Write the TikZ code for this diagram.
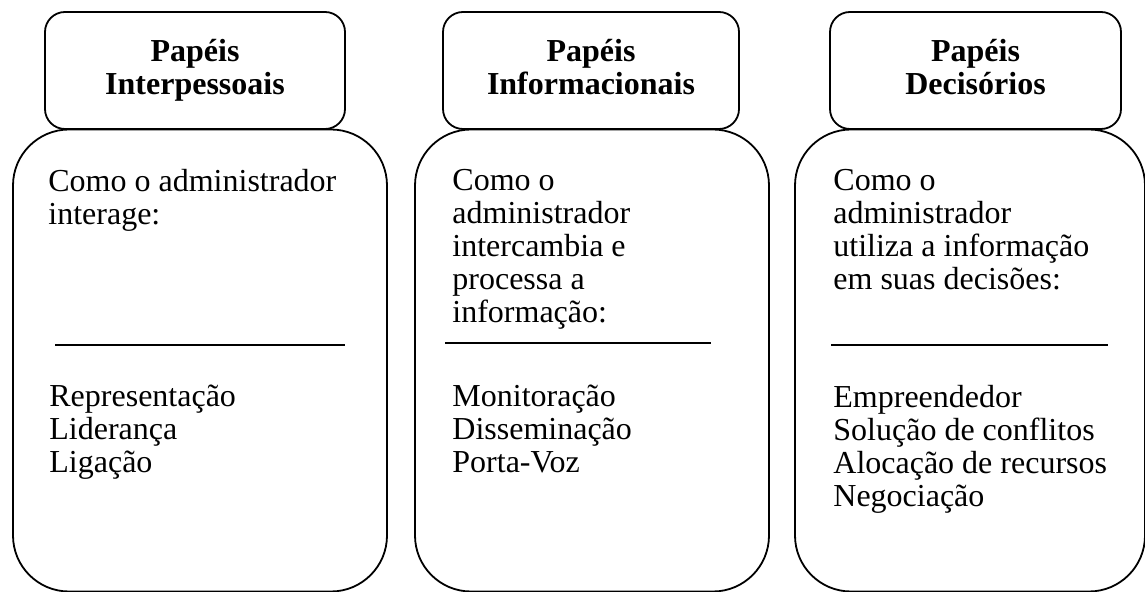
\documentclass[tikz,border=0pt]{standalone}
\usepackage{fontspec}
\setmainfont{Liberation Serif}
\usepackage{tikz}

\tikzset{
  headbox/.style={draw, line width=0.9pt, rounded corners=10pt},
  headtext/.style={anchor=north, inner sep=0pt, align=center,
    font=\fontsize{16}{16.5}\selectfont\bfseries},
  bodybox/.style={draw, line width=0.9pt, rounded corners=28pt},
  bodytext/.style={anchor=north west, inner sep=0pt, align=left,
    font=\fontsize{16}{16.5}\selectfont},
  sepline/.style={line width=0.9pt}
}

\begin{document}
\begin{tikzpicture}[x=0.5pt,y=-0.5pt]
  \useasboundingbox (0,0) rectangle (1145,592);

  % Papeis Interpessoais
  \node[bodybox, minimum width=187pt, minimum height=231pt] (body1) at (200,360.5) {};
  \node[headbox, minimum width=150pt, minimum height=58.5pt] (head1) at (195,70.5) {};
  \node[headtext] (htext1) at (195,38.5) {Papéis\\Interpessoais};
  \node[bodytext] (top1) at (48,169) {Como o administrador\\interage:};
  \coordinate (l1a) at (55,345);
  \coordinate (l1b) at (345,345);
  \draw[sepline] (l1a) -- (l1b);
  \node[bodytext] (list1) at (49,385) {Representação\\Liderança\\Ligação};

  % Papeis Informacionais
  \node[bodybox, minimum width=177pt, minimum height=231pt] (body2) at (592,360.5) {};
  \node[headbox, minimum width=148pt, minimum height=58.5pt] (head2) at (591,70.5) {};
  \node[headtext] (htext2) at (591,38.5) {Papéis\\Informacionais};
  \node[bodytext] (top2) at (452,169) {Como o\\administrador\\intercambia e\\processa a\\informação:};
  \coordinate (l2a) at (445,343);
  \coordinate (l2b) at (711,343);
  \draw[sepline] (l2a) -- (l2b);
  \node[bodytext] (list2) at (452,385) {Monitoração\\Disseminação\\Porta-Voz};

  % Papeis Decisorios
  \node[bodybox, minimum width=175pt, minimum height=231pt] (body3) at (970,360.5) {};
  \node[headbox, minimum width=145.5pt, minimum height=58.5pt] (head3) at (975.5,70.5) {};
  \node[headtext] (htext3) at (975.5,38.5) {Papéis\\Decisórios};
  \node[bodytext] (top3) at (833,169) {Como o\\administrador\\utiliza a informação\\em suas decisões:};
  \coordinate (l3a) at (831,345);
  \coordinate (l3b) at (1108,345);
  \draw[sepline] (l3a) -- (l3b);
  \node[bodytext] (list3) at (833,385) {Empreendedor\\Solução de conflitos\\Alocação de recursos\\Negociação};
\end{tikzpicture}
\end{document}
